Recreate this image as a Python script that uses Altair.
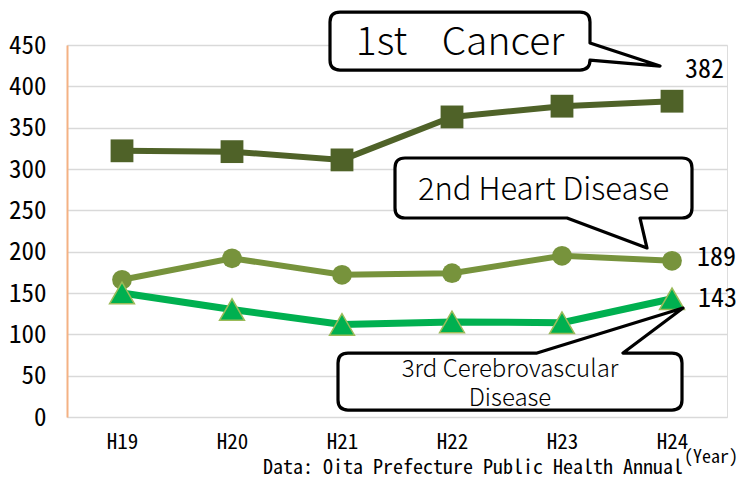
import json
import altair as alt
import pandas as pd

# ---- data ----
years = ["H19", "H20", "H21", "H22", "H23", "H24"]
cancer = [322, 321, 311, 363, 376, 382]
heart = [166, 192, 172, 174, 195, 189]
cerebro = [150, 130, 112, 115, 114, 143]
y_ticks = [0, 50, 100, 150, 200, 250, 300, 350, 400, 450]
series_names = ["Cancer", "Heart Disease", "Cerebrovascular Disease"]
NB = "\u00a0"
callout_texts = ["1st" + NB * 4 + "Cancer", "2nd Heart Disease", "3rd Cerebrovascular", "Disease"]
source_text = "Data: Oita Prefecture Public Health Annual"
unit_text = "(Year)"

idx = list(range(len(years)))
df_cancer = pd.DataFrame({"i": idx, "year": years, "v": cancer})
df_heart = pd.DataFrame({"i": idx, "year": years, "v": heart})
df_cere = pd.DataFrame({"i": idx, "year": years, "v": cerebro})

W, H = 660, 372
MONO = "'Noto Sans Mono CJK JP', 'DejaVu Sans Mono', monospace"
SANS = "'Noto Sans CJK JP', 'Noto Sans', sans-serif"

x_scale = alt.Scale(domain=[-0.5, len(years) - 0.5], nice=False, zero=False)
y_scale = alt.Scale(domain=[0, 450], nice=False, zero=True)
label_expr = json.dumps(years) + "[datum.value]"

x_enc = alt.X("i:Q", scale=x_scale,
              axis=alt.Axis(values=idx, labelExpr=label_expr, title=None, grid=False,
                            domain=False, ticks=False, labelFont=MONO, labelFontSize=21,
                            labelFontWeight="normal",
                            labelColor="#000000", labelPadding=14))
y_enc = alt.Y("v:Q", scale=y_scale,
              axis=alt.Axis(values=y_ticks, title=None, grid=True, gridColor="#d9d9d9",
                            gridWidth=1.6, domain=True, domainColor="#f4b183", domainWidth=2,
                            ticks=False, labelFont=MONO, labelFontSize=25,
                            labelColor="#000000", labelPadding=21))

C_CANCER = "#4f6228"
C_HEART = "#77933c"
C_CERE = "#00b050"

base_c = alt.Chart(df_cancer)
base_h = alt.Chart(df_heart)
base_e = alt.Chart(df_cere)

line_c = base_c.mark_line(color=C_CANCER, strokeWidth=6).encode(x=x_enc, y=y_enc)
pt_c = base_c.mark_point(shape="square", filled=True, color=C_CANCER, size=520, opacity=1).encode(x="i:Q", y="v:Q")
line_h = base_h.mark_line(color=C_HEART, strokeWidth=6).encode(x="i:Q", y="v:Q")
pt_h = base_h.mark_point(shape="circle", filled=True, color=C_HEART, size=390, opacity=1).encode(x="i:Q", y="v:Q")
line_e = base_e.mark_line(color=C_CERE, strokeWidth=7).encode(x="i:Q", y="v:Q")
pt_e = base_e.mark_point(shape="triangle-up", filled=True, fill=C_CERE, stroke="#9bbb59",
                         strokeWidth=1.5, size=620, opacity=1).encode(x="i:Q", y="v:Q")

# value labels at the last year
last = len(years) - 1
def end_label(df, dx, dy):
    return alt.Chart(df[df.i == last]).mark_text(
        align="left", baseline="middle", font=MONO, fontSize=26, color="#000000", dx=dx, dy=dy
    ).encode(x="i:Q", y="v:Q", text="v:Q")

lab_c = end_label(df_cancer, 13, -31)
lab_h = end_label(df_heart, 25, -3)
lab_e = end_label(df_cere, 26, 0)

# ---- callout balloons (shape paths are in px/100, anchored at data positions) ----
def fmt(v):
    return f"{v/100:.4f}"

def callout_path(hw, hh, r, tail):
    def P(x, y):
        return f"{fmt(x)},{fmt(y)}"
    cmds = [f"M{P(-hw + r, -hh)}"]
    if tail[0] == "top":
        for (x, y) in tail[1]:
            cmds.append(f"L{P(x, y)}")
    cmds.append(f"L{P(hw - r, -hh)}")
    cmds.append(f"Q{P(hw, -hh)} {P(hw, -hh + r)}")
    if tail[0] == "right":
        for (x, y) in tail[1]:
            cmds.append(f"L{P(x, y)}")
    cmds.append(f"L{P(hw, hh - r)}")
    cmds.append(f"Q{P(hw, hh)} {P(hw - r, hh)}")
    if tail[0] == "bottom":
        for (x, y) in tail[1]:
            cmds.append(f"L{P(x, y)}")
    cmds.append(f"L{P(-hw + r, hh)}")
    cmds.append(f"Q{P(-hw, hh)} {P(-hw, hh - r)}")
    cmds.append(f"L{P(-hw, -hh + r)}")
    cmds.append(f"Q{P(-hw, -hh)} {P(-hw + r, -hh)}")
    cmds.append("Z")
    return " ".join(cmds)

SIZE = 200 * 200  # 1 path unit = 100 px

shape1 = callout_path(130, 29, 10, ("right", [(130, 2), (200, 25), (130, 19)]))
shape2 = callout_path(148.5, 30, 10, ("bottom", [(96.5, 30), (103.5, 60), (23.5, 30)]))
shape3 = callout_path(172, 28.5, 10, ("top", [(27, -28.5), (173, -73.5), (113, -28.5)]))

ann_box = [
    (3.0727, 454.8, shape1),
    (3.8318, 277.0, shape2),
    (3.5273, 42.9, shape3),
]

box_layers = []
for (bx, by, shp) in ann_box:
    box_layers.append(
        alt.Chart(pd.DataFrame({"i": [bx], "v": [by]})).mark_point(
            shape=shp, size=SIZE, filled=True, fill="white", stroke="black",
            strokeWidth=3.2, opacity=1, strokeJoin="round"
        ).encode(x="i:Q", y="v:Q")
    )

ann_text = [
    (3.0727, 438.5, callout_texts[0], 39),
    (3.8318, 262.5, callout_texts[1], 31),
    (3.5273, 48.4, callout_texts[2], 24),
    (3.5273, 13.3, callout_texts[3], 24),
]
text_layers = []
for (tx, ty, t, fs) in ann_text:
    text_layers.append(
        alt.Chart(pd.DataFrame({"i": [tx], "v": [ty], "t": [t]})).mark_text(
            align="center", baseline="alphabetic", font=SANS, fontSize=fs,
            fontWeight=300, color="#000000"
        ).encode(x="i:Q", y="v:Q", text="t:N")
    )

# footer texts
src = alt.Chart(pd.DataFrame({"i": [5.1], "v": [-61.7], "t": [source_text]})).mark_text(
    align="right", baseline="middle", font=MONO, fontSize=20, color="#000000"
).encode(x="i:Q", y="v:Q", text="t:N")
unit = alt.Chart(pd.DataFrame({"i": [5.109], "v": [-50.0], "t": [unit_text]})).mark_text(
    align="left", baseline="middle", font=MONO, fontSize=18, color="#000000"
).encode(x="i:Q", y="v:Q", text="t:N")

chart = alt.layer(
    line_c, line_h, line_e, pt_c, pt_h, pt_e, lab_c, lab_h, lab_e,
    *box_layers, *text_layers, src, unit
).properties(
    width=W, height=H,
    autosize=alt.AutoSizeParams(type="none"),
    padding={"left": 59, "top": 37, "right": 11, "bottom": 61},
).configure_view(stroke=None).configure(background="white")

chart.save("out.html", embed_options={"renderer": "svg", "actions": False})
